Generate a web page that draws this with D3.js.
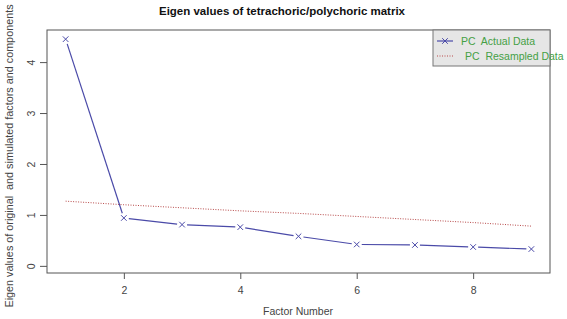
<!DOCTYPE html>
<html>
<head>
<meta charset="utf-8">
<script src="https://cdn.jsdelivr.net/npm/d3@7"></script>
<style>
  body { margin: 0; background: #fff; }
  svg { font-family: "Liberation Sans", Arial, sans-serif; display: block; }
  text { white-space: pre; }
</style>
</head>
<body>
<div id="chart"></div>
<script>
// data
const factors = [1, 2, 3, 4, 5, 6, 7, 8, 9];
const actualData = [4.45, 0.94, 0.81, 0.76, 0.58, 0.42, 0.41, 0.37, 0.33];
const resampledData = [1.27, 1.20, 1.14, 1.08, 1.03, 0.97, 0.91, 0.85, 0.78];
const xTicks = [2, 4, 6, 8];
const yTicks = [0, 1, 2, 3, 4];
const legendLabels = ['PC  Actual Data', 'PC  Resampled Data'];

const width = 567, height = 319;
const margins = { top: 30, right: 17, bottom: 46, left: 47 };

const svg = d3.select('#chart').append('svg')
    .attr('width', width)
    .attr('height', height);

// R style 4% padding on both axes
const x = d3.scaleLinear()
    .domain([0.68, 9.32])
    .range([margins.left, width - margins.right]);

const y = d3.scaleLinear()
    .domain([-0.14, 4.63])
    .range([height - margins.bottom, margins.top]);

const axisColor = '#555';
const blue = '#4a4aa8';
const red = '#b84a4a';
const green = '#45a045';

// plot box
svg.append('rect')
    .attr('x', margins.left)
    .attr('y', margins.top)
    .attr('width', width - margins.left - margins.right)
    .attr('height', height - margins.top - margins.bottom)
    .attr('fill', 'none')
    .attr('stroke', axisColor)
    .attr('stroke-width', 1);

// axes (R style, detached ticks)
const xAxis = svg.append('g')
    .attr('transform', `translate(0,${height - margins.bottom})`)
    .call(d3.axisBottom(x).tickValues(xTicks).tickSize(6).tickPadding(8).tickFormat(d3.format('d')));
xAxis.select('.domain').remove();

const yAxis = svg.append('g')
    .attr('transform', `translate(${margins.left},0)`)
    .call(d3.axisLeft(y).tickValues(yTicks).tickSize(7).tickPadding(0).tickFormat(d3.format('d')));
yAxis.select('.domain').remove();
yAxis.selectAll('text')
    .attr('transform', 'translate(-16,0) rotate(-90)')
    .attr('x', 0)
    .attr('y', 0)
    .attr('dy', '0.35em')
    .attr('text-anchor', 'middle');

svg.selectAll('.tick line').attr('stroke', axisColor);
svg.selectAll('.tick text')
    .attr('fill', '#444')
    .style('font-size', '10.5px');

// titles
svg.append('text')
    .attr('x', 282)
    .attr('y', 15)
    .attr('text-anchor', 'middle')
    .style('font-size', '11.5px')
    .style('font-weight', 'bold')
    .attr('fill', '#111')
    .text('Eigen values of tetrachoric/polychoric matrix');

svg.append('text')
    .attr('x', 298)
    .attr('y', 315)
    .attr('text-anchor', 'middle')
    .style('font-size', '10.5px')
    .attr('fill', '#444')
    .text('Factor Number');

svg.append('text')
    .attr('transform', 'translate(13,156) rotate(-90)')
    .attr('text-anchor', 'middle')
    .style('font-size', '10.8px')
    .attr('fill', '#444')
    .text('Eigen values of original  and simulated factors and components');

// resampled line (dotted)
const line = d3.line()
    .x((d, i) => x(factors[i]))
    .y(d => y(d));

svg.append('path')
    .datum(resampledData)
    .attr('fill', 'none')
    .attr('stroke', red)
    .attr('stroke-width', 1)
    .attr('stroke-dasharray', '1,1.5')
    .attr('d', line);

// actual data line, with gaps around the markers like R type="b"
const gap = 5;
const segments = [];
for (let i = 0; i < factors.length - 1; i++) {
    const x1 = x(factors[i]), y1 = y(actualData[i]);
    const x2 = x(factors[i + 1]), y2 = y(actualData[i + 1]);
    const len = Math.hypot(x2 - x1, y2 - y1);
    const ux = (x2 - x1) / len, uy = (y2 - y1) / len;
    segments.push([x1 + ux * gap, y1 + uy * gap, x2 - ux * gap, y2 - uy * gap]);
}
svg.selectAll('.seg')
    .data(segments)
    .join('line')
    .attr('class', 'seg')
    .attr('x1', d => d[0]).attr('y1', d => d[1])
    .attr('x2', d => d[2]).attr('y2', d => d[3])
    .attr('stroke', blue)
    .attr('stroke-width', 1.2);

const cross = d3.symbol().type(d3.symbolX).size(22);
svg.selectAll('.pt')
    .data(actualData)
    .join('path')
    .attr('class', 'pt')
    .attr('transform', (d, i) => `translate(${x(factors[i])},${y(d)})`)
    .attr('d', cross)
    .attr('fill', 'none')
    .attr('stroke', blue)
    .attr('stroke-width', 1);

// legend
const legX = 433, legY = margins.top, legW = width - margins.right - legX, legH = 36;
svg.append('rect')
    .attr('x', legX)
    .attr('y', legY)
    .attr('width', legW)
    .attr('height', legH)
    .attr('fill', '#e6e6e6')
    .attr('stroke', '#777');

svg.append('line')
    .attr('x1', legX + 4).attr('x2', legX + 20)
    .attr('y1', legY + 11).attr('y2', legY + 11)
    .attr('stroke', blue).attr('stroke-width', 1.2);
svg.append('path')
    .attr('transform', `translate(${legX + 12},${legY + 11})`)
    .attr('d', cross)
    .attr('fill', 'none')
    .attr('stroke', blue);
svg.append('line')
    .attr('x1', legX + 4).attr('x2', legX + 20)
    .attr('y1', legY + 26).attr('y2', legY + 26)
    .attr('stroke', red).attr('stroke-width', 1)
    .attr('stroke-dasharray', '1,1.5');

svg.selectAll('.leg-text')
    .data(legendLabels)
    .join('text')
    .attr('class', 'leg-text')
    .attr('x', (d, i) => legX + 28 + i * 4)
    .attr('y', (d, i) => legY + 15 + i * 15)
    .style('font-size', '10.5px')
    .attr('fill', green)
    .text(d => d);
</script>
</body>
</html>
